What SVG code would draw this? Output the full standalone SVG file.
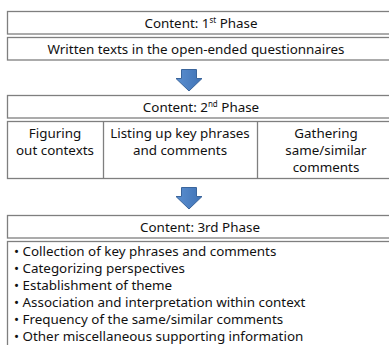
<svg xmlns="http://www.w3.org/2000/svg" width="389" height="345" viewBox="0 0 389 345">
<defs>
<linearGradient id="ag" x1="0" y1="0" x2="1" y2="0">
<stop offset="0" stop-color="#5b8fd0"/>
<stop offset="1" stop-color="#3f72b5"/>
</linearGradient>
</defs>
<style>
.box{fill:#fff;stroke:#7f7f7f;stroke-width:1.3}
.t{font-family:"Noto Sans","Open Sans",sans-serif;font-size:13.4px;fill:#111;text-anchor:middle}
.l{font-family:"Noto Sans","Open Sans",sans-serif;font-size:13.4px;fill:#111}
.sup{font-size:8px}
.arrow{fill:url(#ag);stroke:#3a659c;stroke-width:1}
</style>
<rect width="389" height="345" fill="#fff"/>
<g id="phase1-header">
<rect class="box" x="7.5" y="11.5" width="390" height="22.5"/>
<text class="t" x="201" y="28">Content:  1<tspan class="sup" dy="-5">st</tspan><tspan dy="5"> Phase</tspan></text>
</g>
<g id="phase1-body">
<rect class="box" x="7.5" y="37.5" width="390" height="22.5"/>
<text class="t" x="196" y="54">Written texts in the open-ended questionnaires</text>
</g>
<g id="phase2-header">
<rect class="box" x="7.5" y="95.5" width="390" height="22.5"/>
<text class="t" x="201" y="112">Content: 2<tspan class="sup" dy="-5">nd</tspan><tspan dy="5"> Phase</tspan></text>
</g>
<g id="phase2-body">
<rect class="box" x="7.5" y="121.5" width="390" height="57"/>
<line x1="103.5" y1="121.5" x2="103.5" y2="178.5" stroke="#7f7f7f" stroke-width="1.3"/>
<line x1="257.5" y1="121.5" x2="257.5" y2="178.5" stroke="#7f7f7f" stroke-width="1.3"/>
<text class="t" x="55" y="138">Figuring</text>
<text class="t" x="55" y="155">out contexts</text>
<text class="t" x="180" y="138">Listing up key phrases</text>
<text class="t" x="180" y="155">and comments</text>
<text class="t" x="326" y="138">Gathering</text>
<text class="t" x="326" y="155">same/similar</text>
<text class="t" x="326" y="172">comments</text>
</g>
<g id="phase3-header">
<rect class="box" x="7.5" y="215.5" width="390" height="22.5"/>
<text class="t" x="200" y="232">Content: 3rd Phase</text>
</g>
<g id="phase3-body">
<rect class="box" x="7.5" y="241.5" width="390" height="120"/>
<text class="l" x="14" y="256">• Collection of key phrases and comments</text>
<text class="l" x="14" y="273">• Categorizing perspectives</text>
<text class="l" x="14" y="290">• Establishment of theme</text>
<text class="l" x="14" y="307">• Association and interpretation within context</text>
<text class="l" x="14" y="324">• Frequency of the same/similar comments</text>
<text class="l" x="14" y="341">• Other miscellaneous supporting information</text>
</g>
<g id="connectors">
<path class="arrow" d="M181.5 69.5 H196.5 V78.5 H202 L189 91 L176 78.5 H181.5 Z"/>
<path class="arrow" d="M181.5 187.5 H196.5 V196.5 H202 L189 209 L176 196.5 H181.5 Z"/>
</g>
</svg>
